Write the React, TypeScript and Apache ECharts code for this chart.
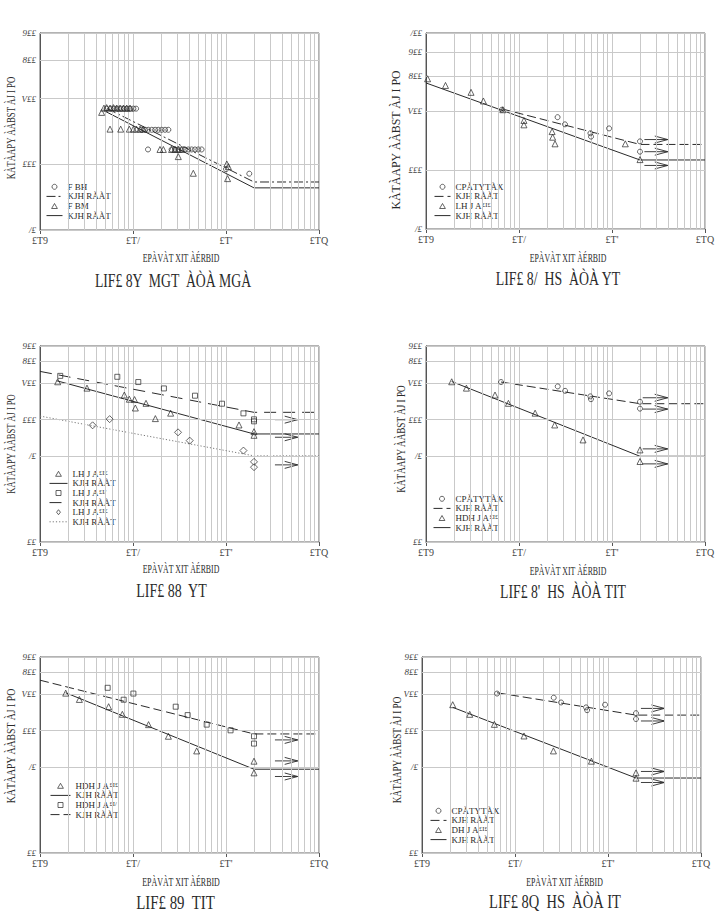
import React, { useEffect, useRef } from 'react';
import * as echarts from 'echarts';

const FONT = '"Liberation Serif", "Times New Roman", serif';
const INK = '#2a2a2a';
const GRID = '#c9c9c9';

// ---------- axes ----------
const xMin = 1e4;
const xMax = 1e7;
const xTickLabels = ['£T9', '£T/', "£T'", '£TQ'];
const minorMultipliers = [2, 3, 4, 5, 6, 7, 8, 9];
const minorDecades = [1e4, 1e5, 1e6];

const yTicks50to400 = [50, 100, 200, 300, 400];
const yLabels50to400 = ['/£', '£££', 'V££', '8££', '9££'];
const yTicks50to500 = [50, 100, 200, 300, 400, 500];
const yLabels50to500 = ['/£', '£££', 'V££', '8££', '9££', '/££'];
const yTicks10to400 = [10, 50, 100, 200, 300, 400];
const yLabels10to400 = ['££', '/£', '£££', 'V££', '8££', '9££'];

// ---------- texts ----------
const titles = [
  'LIF£ 8Y  MGT  ÀÒÀ MGÀ',
  'LIF£ 8/  HS  ÀÒÀ YT',
  'LIF£ 88  YT',
  "LIF£ 8'  HS  ÀÒÀ TIT",
  'LIF£ 89  TIT',
  'LIF£ 8Q  HS  ÀÒÀ IT',
];
const xName = 'EPÀVÀT XIT ÀÉRBID';
const yName = 'KÀTÀAPY ÀÀBST ÀJ I PO';
const fitName = 'KJH RÀÀT';

// ---------- panel 1 ----------
const p1Circles = [
  [5.21e4, 180], [5.75e4, 180], [6.3e4, 180], [6.78e4, 180], [7.37e4, 180], [8.0e4, 180], [8.6e4, 180], [9.29e4, 180], [1.01e5, 180], [1.08e5, 180],
  [1.24e5, 144], [1.35e5, 144], [1.46e5, 144], [1.59e5, 144], [1.73e5, 144], [1.87e5, 144], [2.03e5, 144], [2.21e5, 144], [2.4e5, 144],
  [1.45e5, 117],
  [2.6e5, 117], [2.83e5, 117], [3.07e5, 117], [3.34e5, 117], [3.62e5, 117], [3.93e5, 117], [4.27e5, 117], [4.64e5, 117], [5.04e5, 117], [5.47e5, 117],
  [1.0e6, 95], [1.78e6, 90.6],
];
const p1Triangles = [
  [4.87e4, 181], [5.21e4, 182], [5.66e4, 181], [6.15e4, 182], [6.67e4, 181], [7.25e4, 181], [7.87e4, 181], [8.55e4, 181], [9.29e4, 181], [4.6e4, 173],
  [5.66e4, 145], [7.37e4, 145], [9.13e4, 145], [1.01e5, 145], [1.09e5, 145], [1.19e5, 145], [1.29e5, 145],
  [1.95e5, 117], [2.12e5, 117], [2.6e5, 117], [2.83e5, 117], [3.07e5, 117], [3.34e5, 117],
  [3.07e5, 108.5], [4.45e5, 91], [1.02e6, 100.4], [1.06e6, 97.6], [1.04e6, 86],
];
const p1FitCircles = [[5.3e4, 180], [2e6, 83], [1e7, 83]];
const p1FitTriangles = [[4.9e4, 176], [2e6, 78], [1e7, 78]];

// ---------- panel 2 ----------
const p2Circles = [[6.56e4, 203], [2.6e5, 186], [3.12e5, 171], [5.86e5, 154], [5.95e5, 148], [9.3e5, 163], [2e6, 140], [2e6, 124]];
const p2Triangles = [[1.04e4, 292], [1.62e4, 270], [3.05e4, 249], [4.14e4, 225], [6.7e4, 203], [1.13e5, 179], [1.13e5, 170], [2.27e5, 157], [2.3e5, 147], [2.44e5, 136], [1.39e6, 136], [2e6, 113]];
const p2FitCircles = [[6.56e4, 205], [2e6, 135], [1e7, 135]];
const p2FitTriangles = [[1e4, 278], [2e6, 112.5], [1e7, 112.5]];
const p2Arrows = [[2.23e6, 143, 3.98e6], [2.23e6, 124, 3.98e6], [2.23e6, 105.5, 3.98e6]];

// ---------- panel 3 ----------
const p3Triangles = [[1.55e4, 204], [3.2e4, 181], [8.07e4, 159], [9.13e4, 147], [1.04e5, 146], [1.06e5, 124.5], [1.38e5, 136], [1.74e5, 102], [2.54e5, 113], [1.38e6, 90.5], [2e6, 79.8], [2e6, 74.5]];
const p3Squares = [[1.65e4, 228], [6.78e4, 224], [1.14e5, 203], [2.15e5, 180], [4.64e5, 157], [9.06e5, 135], [1.54e6, 112.6], [2e6, 100.6], [2e6, 96.9]];
const p3Diamonds = [[3.68e4, 89.9], [5.61e4, 101], [3.05e5, 78.8], [4.07e5, 67.4], [1.54e6, 55.9], [2e6, 45.2], [2e6, 40.9]];
const p3FitTriangles = [[1.51e4, 208], [2e6, 76.4], [1e7, 76.4]];
const p3FitSquares = [[1e4, 248], [2e6, 114.8], [1e7, 114.8]];
const p3FitDiamonds = [[1e4, 107], [2e6, 50.6], [1e7, 50.6]];
const p3Arrows = [[3.36e6, 100, 5.9e6], [3.36e6, 71.8, 5.9e6], [3.36e6, 42.7, 5.9e6]];

// ---------- panel 4 ----------
const p4Circles = [[6.41e4, 203], [2.61e5, 187], [3.13e5, 172], [5.85e5, 155], [5.94e5, 147], [9.3e5, 164], [2e6, 140], [2e6, 123]];
const p4Triangles = [[1.89e4, 204], [2.72e4, 181], [5.52e4, 159], [7.69e4, 136], [1.49e5, 113], [2.42e5, 90.5], [4.88e5, 68.3], [2e6, 56.6], [2e6, 45.5]];
const p4FitCircles = [[6.41e4, 203], [2e6, 135], [1e7, 135]];
const p4FitTriangles = [[1.89e4, 205], [2e6, 50.2], [1e7, 50.2]];
const p4Arrows = [[2.14e6, 151, 3.97e6], [2.14e6, 122, 3.97e6], [2.14e6, 57.7, 3.97e6], [2.14e6, 43.5, 3.97e6]];

// ---------- panel 5 ----------
const p5Triangles = [[1.89e4, 202.6], [2.65e4, 180], [5.47e4, 157], [7.68e4, 136], [1.47e5, 112], [2.4e5, 90], [4.84e5, 68.3], [2e6, 56.3], [2e6, 45.2]];
const p5Squares = [[5.34e4, 224], [1.01e5, 201], [7.94e4, 179], [2.88e5, 157], [3.87e5, 134], [6.2e5, 112], [1.12e6, 100.6], [2e6, 90], [2e6, 78.4]];
const p5FitTriangles = [[1.89e4, 204], [2e6, 48.4], [1e7, 48.4]];
const p5FitSquares = [[1e4, 258.5], [2e6, 94], [1e7, 94]];
const p5Arrows = [[3.36e6, 84, 5.9e6], [3.36e6, 56.6, 5.9e6], [3.36e6, 42.2, 5.9e6]];

// ---------- panel 6 ----------
const p6Circles = [[6.41e4, 201], [2.61e5, 186], [3.13e5, 170], [5.81e5, 155], [5.96e5, 147], [9.3e5, 163], [2e6, 139], [2e6, 124.5]];
const p6Triangles = [[2.14e4, 163], [3.26e4, 136], [6.0e4, 112.6], [1.25e5, 90.5], [2.59e5, 68.3], [6.63e5, 56.3], [2e6, 45.2], [2e6, 40.9]];
const p6FitCircles = [[6.41e4, 204], [2e6, 134], [1e7, 134]];
const p6FitTriangles = [[2.14e4, 155], [2e6, 41], [1e7, 41]];
const p6Arrows = [[2.26e6, 152, 4.04e6], [2.26e6, 120, 4.04e6], [2.26e6, 46.4, 4.04e6], [2.26e6, 37.7, 4.04e6]];

const DASH = [9, 4];
const DASHDOT = [9, 3, 2, 3];
const DOT = [1.2, 2];

const legendIcons: Record<string, string> = {
  circle: 'circle',
  triangle: 'path://M5,0L10,8.66L0,8.66Z',
  rect: 'path://M0,0L10,0L10,10L0,10Z',
  diamond: 'path://M5,0L10,6.5L5,13L0,6.5Z',
};

type S = { kind: 'scatter' | 'line'; label: string; data: number[][]; symbol?: string; size?: number; dash?: any; color?: string };

const panels: any[] = [
  {
    yMin: 50, yMax: 400, yTicks: yTicks50to400, yLabels: yLabels50to400, arrows: [],
    series: [
      { kind: 'scatter', label: 'F BH', data: p1Circles, symbol: 'circle', size: 5 },
      { kind: 'line', label: fitName, data: p1FitCircles, dash: DASHDOT },
      { kind: 'scatter', label: 'F BM', data: p1Triangles, symbol: 'triangle', size: 6 },
      { kind: 'line', label: fitName, data: p1FitTriangles, dash: 'solid' },
    ] as S[],
    box: { left: 40, top: 33, width: 279, height: 197 },
    title: { x: 173, y: 281, w: 157 }, xn: { x: 181, y: 258, w: 77 }, yn: { x: 10, y: 128, w: 103 },
    legend: { left: 46, top: 182, iw: 16 },
  },
  {
    yMin: 50, yMax: 500, yTicks: yTicks50to500, yLabels: yLabels50to500, arrows: p2Arrows,
    series: [
      { kind: 'scatter', label: 'CPÀTYTÀX', data: p2Circles, symbol: 'circle', size: 5 },
      { kind: 'line', label: fitName, data: p2FitCircles, dash: DASH },
      { kind: 'scatter', label: 'LH J A^£I£', data: p2Triangles, symbol: 'triangle', size: 6 },
      { kind: 'line', label: fitName, data: p2FitTriangles, dash: 'solid' },
    ] as S[],
    box: { left: 426, top: 33, width: 279, height: 196 },
    title: { x: 558, y: 279, w: 125 }, xn: { x: 568, y: 258, w: 77 }, yn: { x: 396, y: 140, w: 140 },
    legend: { left: 434, top: 182, iw: 16 },
  },
  {
    yMin: 10, yMax: 400, yTicks: yTicks10to400, yLabels: yLabels10to400, arrows: p3Arrows,
    series: [
      { kind: 'scatter', label: 'LH J A^£I£', data: p3Triangles, symbol: 'triangle', size: 6 },
      { kind: 'line', label: fitName, data: p3FitTriangles, dash: 'solid' },
      { kind: 'scatter', label: 'LH J A^£I/', data: p3Squares, symbol: 'rect', size: 5 },
      { kind: 'line', label: fitName, data: p3FitSquares, dash: [12, 7] },
      { kind: 'scatter', label: 'LH J A^£I£', data: p3Diamonds, symbol: 'diamond', size: 7 },
      { kind: 'line', label: fitName, data: p3FitDiamonds, dash: DOT, color: '#777' },
    ] as S[],
    box: { left: 40, top: 346, width: 279, height: 196 },
    title: { x: 171.5, y: 591, w: 71 }, xn: { x: 181, y: 569, w: 77 }, yn: { x: 10, y: 444, w: 100 },
    legend: { left: 49, top: 469, iw: 18 },
  },
  {
    yMin: 10, yMax: 400, yTicks: yTicks10to400, yLabels: yLabels10to400, arrows: p4Arrows,
    series: [
      { kind: 'scatter', label: 'CPÀTYTÀX', data: p4Circles, symbol: 'circle', size: 5 },
      { kind: 'line', label: fitName, data: p4FitCircles, dash: DASH },
      { kind: 'scatter', label: 'HDH J A^£I£', data: p4Triangles, symbol: 'triangle', size: 6 },
      { kind: 'line', label: fitName, data: p4FitTriangles, dash: 'solid' },
    ] as S[],
    box: { left: 426, top: 346, width: 279, height: 196 },
    title: { x: 563, y: 592, w: 126 }, xn: { x: 568, y: 571, w: 77 }, yn: { x: 400, y: 439, w: 108 },
    legend: { left: 433, top: 494, iw: 17 },
  },
  {
    yMin: 10, yMax: 400, yTicks: yTicks10to400, yLabels: yLabels10to400, arrows: p5Arrows,
    series: [
      { kind: 'scatter', label: 'HDH J A^£I£', data: p5Triangles, symbol: 'triangle', size: 6 },
      { kind: 'line', label: fitName, data: p5FitTriangles, dash: 'solid' },
      { kind: 'scatter', label: 'HDH J A^£I/', data: p5Squares, symbol: 'rect', size: 5 },
      { kind: 'line', label: fitName, data: p5FitSquares, dash: DASH },
    ] as S[],
    box: { left: 40, top: 657, width: 279, height: 196 },
    title: { x: 175.5, y: 903, w: 79 }, xn: { x: 181, y: 882, w: 78 }, yn: { x: 10, y: 746, w: 115 },
    legend: { left: 50, top: 781, iw: 20 },
  },
  {
    yMin: 10, yMax: 400, yTicks: yTicks10to400, yLabels: yLabels10to400, arrows: p6Arrows,
    series: [
      { kind: 'scatter', label: 'CPÀTYTÀX', data: p6Circles, symbol: 'circle', size: 5 },
      { kind: 'line', label: fitName, data: p6FitCircles, dash: DASH },
      { kind: 'scatter', label: 'DH J A^£I£', data: p6Triangles, symbol: 'triangle', size: 6 },
      { kind: 'line', label: fitName, data: p6FitTriangles, dash: 'solid' },
    ] as S[],
    box: { left: 422, top: 657, width: 279, height: 196 },
    title: { x: 555, y: 902, w: 132 }, xn: { x: 564.5, y: 882, w: 77 }, yn: { x: 396, y: 750, w: 107 },
    legend: { left: 430, top: 806, iw: 16 },
  },
];

let measureCtx: CanvasRenderingContext2D | null = null;
function measure(text: string, size: number, weight = 'normal') {
  if (!measureCtx) measureCtx = document.createElement('canvas').getContext('2d');
  if (!measureCtx) return text.length * size * 0.6;
  measureCtx.font = `${weight} ${size}px "Liberation Serif"`;
  return measureCtx.measureText(text).width;
}

function fitText(text: string, x: number, y: number, w: number, size: number, rotation = 0, weight = 'normal') {
  return {
    type: 'text',
    x, y, rotation,
    scaleX: w / measure(text, size, weight),
    silent: true,
    style: {
      text, fill: INK, fontSize: size, fontFamily: 'Liberation Serif', fontWeight: weight,
      align: 'center', verticalAlign: 'middle', textAlign: 'center', textVerticalAlign: 'middle',
    },
  };
}

function arrowRender(params: any, api: any) {
  const a = api.coord([api.value(0), api.value(1)]);
  const b = api.coord([api.value(2), api.value(1)]);
  const hl = 13;
  const hw = 3.5;
  return {
    type: 'group',
    children: [
      { type: 'line', shape: { x1: a[0], y1: a[1], x2: b[0], y2: b[1] }, style: { stroke: INK, lineWidth: 0.9 } },
      { type: 'polyline', shape: { points: [[b[0] - hl, b[1] - hw], [b[0], b[1]], [b[0] - hl, b[1] + hw]] }, style: { stroke: INK, fill: 'none', lineWidth: 0.9 } },
    ],
  };
}

const CLEAR = 'rgba(0,0,0,0)';

function buildOption() {
  const grid: any[] = [];
  const xAxis: any[] = [];
  const yAxis: any[] = [];
  const series: any[] = [];
  const legend: any[] = [];
  const graphic: any[] = [];
  const minorX: number[] = [];
  minorDecades.forEach((d) => minorMultipliers.forEach((m) => minorX.push(d * m)));

  panels.forEach((p, i) => {
    grid.push({ ...p.box, show: true, borderColor: '#666', borderWidth: 1, backgroundColor: 'transparent' });
    xAxis.push({
      type: 'log', logBase: 10, min: xMin, max: xMax, gridIndex: i,
      axisLine: { show: true, lineStyle: { color: '#555', width: 1 } },
      axisTick: { show: true, length: 4, lineStyle: { color: '#555' } },
      axisLabel: {
        fontSize: 10, fontFamily: FONT, color: '#444', margin: 5,
        formatter: (v: number) => xTickLabels[Math.round(Math.log10(v)) - 4] ?? '',
      },
      splitLine: { show: true, lineStyle: { color: GRID, width: 1 } },
    });
    yAxis.push({
      type: 'log', logBase: 10, min: p.yMin, max: p.yMax, gridIndex: i,
      axisLine: { show: true, lineStyle: { color: '#555', width: 1 } },
      axisTick: { show: false }, axisLabel: { show: false }, splitLine: { show: false },
    });
    // grid lines + y tick labels
    series.push({
      type: 'line', name: `grid${i}`, xAxisIndex: i, yAxisIndex: i, data: [], silent: true, z: 1,
      markLine: {
        silent: true, symbol: ['none', 'none'], animation: false,
        lineStyle: { color: GRID, type: 'solid', width: 1 },
        label: { show: false },
        emphasis: { disabled: true },
        data: [
          ...minorX.map((v) => ({ xAxis: v })),
          ...p.yTicks.map((v: number, k: number) => ({
            yAxis: v,
            label: { show: true, position: 'start', distance: 4, formatter: p.yLabels[k], fontSize: 9, fontStyle: 'italic', fontFamily: FONT, color: '#444' },
          })),
        ],
      },
    });
    const legendData: any[] = [];
    p.series.forEach((s: S, k: number) => {
      const name = `${i}|${k}|${s.label}`;
      if (s.kind === 'scatter') {
        legendData.push({ name, icon: legendIcons[s.symbol || 'circle'] });
        series.push({
          type: 'scatter', name, xAxisIndex: i, yAxisIndex: i, data: s.data, symbol: s.symbol, symbolSize: s.size,
          itemStyle: { color: CLEAR, borderColor: INK, borderWidth: 0.9 }, z: 5, silent: true,
        });
      } else {
        legendData.push({ name, itemStyle: { color: CLEAR, borderColor: CLEAR, borderWidth: 0 } });
        series.push({
          type: 'line', name, xAxisIndex: i, yAxisIndex: i, data: s.data, symbol: 'none', z: 3, silent: true,
          itemStyle: { color: CLEAR, borderColor: CLEAR, borderWidth: 0 },
          lineStyle: { color: s.color || INK, width: 1, type: s.dash },
        });
      }
    });
    if (p.arrows.length) {
      series.push({
        type: 'custom', name: `arrows${i}`, xAxisIndex: i, yAxisIndex: i, data: p.arrows, renderItem: arrowRender,
        encode: { x: [0, 2], y: 1 }, silent: true, z: 4,
      });
    }
    legend.push({
      show: true, orient: 'vertical', left: p.legend.left, top: p.legend.top, padding: 0,
      itemWidth: p.legend.iw, itemHeight: 5, itemGap: 0, selectedMode: false, data: legendData,
      symbolKeepAspect: true,
      itemStyle: { borderWidth: 0.9 },
      lineStyle: { width: 1 },
      formatter: (n: string) => {
        const t = n.split('|')[2];
        const parts = t.split('^');
        return parts.length > 1 ? `{n|${parts[0]}}{s|${parts[1]}}` : t;
      },
      textStyle: {
        fontFamily: FONT, fontSize: 9, color: INK, lineHeight: 9.6,
        rich: { n: { fontFamily: FONT, fontSize: 9, color: INK }, s: { fontFamily: FONT, fontSize: 6.5, color: INK, verticalAlign: 'top' } },
      },
    });
    graphic.push(fitText(titles[i], p.title.x, p.title.y, p.title.w, 18));
    graphic.push(fitText(xName, p.xn.x, p.xn.y, p.xn.w, 12));
    graphic.push(fitText(yName, p.yn.x, p.yn.y, p.yn.w, 13, Math.PI / 2));
  });

  return { animation: false, backgroundColor: '#fff', grid, xAxis, yAxis, series, legend, graphic };
}

export default function App() {
  const ref = useRef<HTMLDivElement>(null);
  useEffect(() => {
    document.body.style.margin = '0';
    if (!ref.current) return;
    const chart = echarts.init(ref.current, undefined, { renderer: 'svg' });
    chart.setOption(buildOption() as any);
    return () => chart.dispose();
  }, []);
  return <div ref={ref} style={{ width: 726, height: 912 }} />;
}
